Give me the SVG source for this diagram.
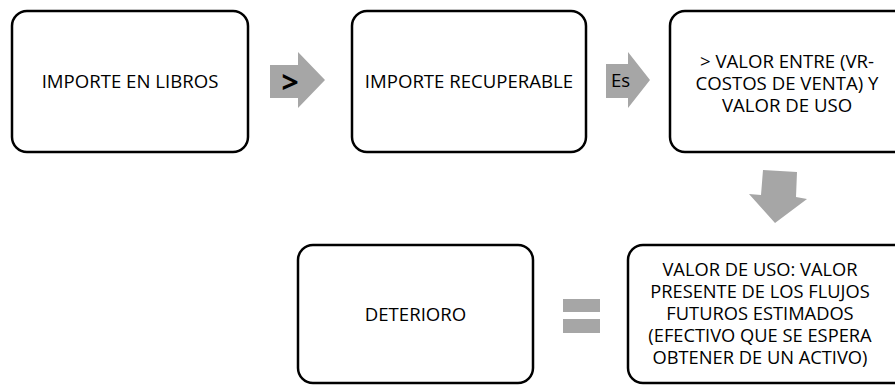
<svg xmlns="http://www.w3.org/2000/svg" width="895" height="385" viewBox="0 0 895 385">
<style>
.box{fill:#fff;stroke:#000;stroke-width:2.5}
.t{font-family:"Open Sans","Liberation Sans",sans-serif;font-size:18.6px;fill:#000;text-anchor:middle}
.arr{fill:#a6a6a6}
</style>
<rect width="895" height="385" fill="#fff"/>
<g id="connectors">
<g id="arrow-gt">
<polygon class="arr" points="270,65 298,65 298,52 325,80 298,108 298,98 270,98"/>
<text x="290" y="93" style="font-family:'Open Sans','Liberation Sans',sans-serif;font-size:30px;font-weight:bold;text-anchor:middle">&gt;</text>
</g>
<g id="arrow-es">
<polygon class="arr" points="606,64 628,64 628,52 650,80 628,108 628,98 606,98"/>
<text x="611" y="87" style="font-family:'Open Sans','Liberation Sans',sans-serif;font-size:18.6px">Es</text>
</g>
<g id="arrow-down">
<polygon class="arr" points="763,170 797,172 796,197 807,199 775,223 749,194 761,195"/>
</g>
<g id="equals">
<rect class="arr" x="563" y="299" width="37" height="13"/>
<rect class="arr" x="563" y="319" width="37" height="14"/>
</g>
</g>
<g id="importe-libros">
<rect class="box" x="12" y="11" width="236" height="141" rx="15"/>
<text class="t" x="130" y="88">IMPORTE EN LIBROS</text>
</g>
<g id="importe-recuperable">
<rect class="box" x="352" y="11" width="234" height="141" rx="15"/>
<text class="t" x="469" y="88">IMPORTE RECUPERABLE</text>
</g>
<g id="valor-entre">
<rect class="box" x="670" y="11" width="250" height="141" rx="15"/>
<text class="t"><tspan x="787" y="67.5">&gt; VALOR ENTRE (VR-</tspan><tspan x="787" y="89.5">COSTOS DE VENTA) Y</tspan><tspan x="787" y="111.5">VALOR DE USO</tspan></text>
</g>
<g id="deterioro">
<rect class="box" x="298" y="245" width="235" height="138" rx="15"/>
<text class="t" x="415.5" y="321">DETERIORO</text>
</g>
<g id="valor-uso">
<rect class="box" x="628" y="245" width="285" height="138" rx="15"/>
<text class="t" style="font-size:18.3px"><tspan x="760" y="275.5">VALOR DE USO: VALOR</tspan><tspan x="760" y="297.5">PRESENTE DE LOS FLUJOS</tspan><tspan x="760" y="319.5">FUTUROS ESTIMADOS</tspan><tspan x="760" y="341.5">(EFECTIVO QUE SE ESPERA</tspan><tspan x="760" y="363.5">OBTENER DE UN ACTIVO)</tspan></text>
</g>
</svg>
